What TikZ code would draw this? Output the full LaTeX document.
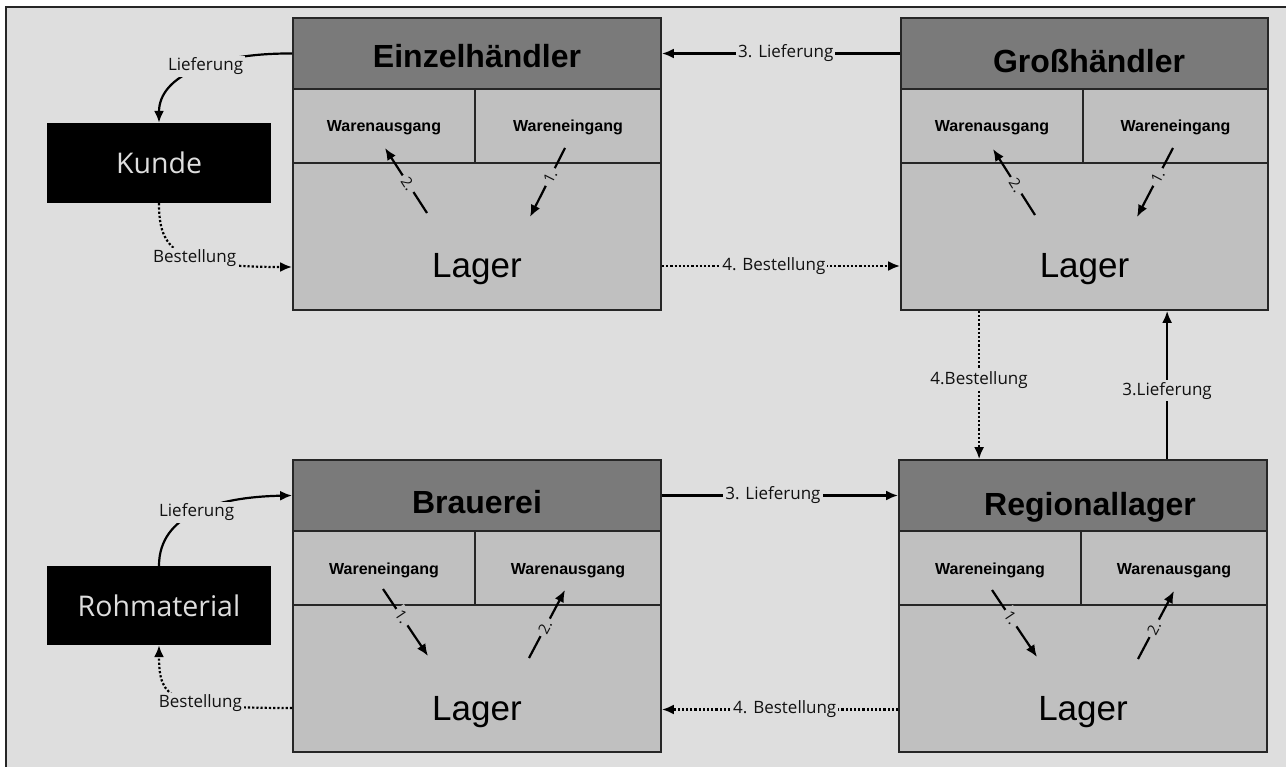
\documentclass[tikz,border=0pt]{standalone}
\usepackage{fontspec}
\setmainfont{Liberation Sans}
\newfontfamily\lblfont{Open Sans}
\usetikzlibrary{arrows.meta,calc}

\definecolor{bgc}{HTML}{DEDEDE}
\definecolor{hdc}{HTML}{7A7A7A}
\definecolor{cellc}{HTML}{C0C0C0}
\definecolor{edgec}{HTML}{262626}
\definecolor{txtc}{HTML}{111111}

\tikzset{
  hdbox/.style={draw=edgec, fill=hdc, line width=1.8pt, inner sep=0pt},
  cellbox/.style={draw=edgec, fill=cellc, line width=1.8pt, inner sep=0pt},
  darkbox/.style={fill=black, inner sep=0pt, text=bgc,
    font=\lblfont\fontsize{28.5}{30}\selectfont},
  titletxt/.style={anchor=base, inner sep=0pt, text=black,
    font=\bfseries\fontsize{32}{34}\selectfont},
  subtxt/.style={anchor=base, inner sep=0pt, text=black,
    font=\bfseries\fontsize{16}{18}\selectfont},
  lagertxt/.style={anchor=base, inner sep=0pt, text=black,
    font=\fontsize{35}{37}\selectfont},
  connlbl/.style={fill=bgc, inner sep=2pt, text=txtc,
    font=\lblfont\fontsize{17}{18}\selectfont},
  steplbl/.style={sloped, fill=cellc, inner sep=3.5pt, text=txtc,
    font=\lblfont\fontsize{15}{16}\selectfont},
  flow/.style={draw=black, line width=2.2pt, -{Latex[length=12pt,width=10pt]}},
  order/.style={flow, dotted},
}

% one stage of the chain: header, two goods cells and the store below
% #1 name, #2 left, #3 right, #4 divider, #5 top, #6 left cell, #7 right cell
\newcommand\stage[7]{%
  \node[hdbox, minimum width={(#3-#2)*1pt}, minimum height=71pt]
    (#1h) at ({(#2+#3)/2},{#5+35.5}) {};
  \node[cellbox, minimum width={(#4-#2)*1pt}, minimum height=74pt]
    (#1a) at ({(#2+#4)/2},{#5+108}) {};
  \node[cellbox, minimum width={(#3-#4)*1pt}, minimum height=74pt]
    (#1b) at ({(#4+#3)/2},{#5+108}) {};
  \node[cellbox, minimum width={(#3-#2)*1pt}, minimum height=147pt]
    (#1l) at ({(#2+#3)/2},{#5+218.5}) {};
  \node[subtxt] (#1at) at ({(#2+#4)/2},{#5+114}) {#6};
  \node[subtxt] (#1bt) at ({(#4+#3)/2},{#5+114}) {#7};
  \node[lagertxt] (#1lt) at ({(#2+#3)/2},{#5+260}) {Lager};
}

\begin{document}
\begin{tikzpicture}[x=1pt,y=-1pt]
  \useasboundingbox (0,0) rectangle (1286,767);
  \fill[white] (0,0) rectangle (1286,767);
  \fill[bgc] (6,7) rectangle (1286,767);
  \draw[edgec, line width=1.5pt] (6,767) -- (6,7) -- (1286,7);

  % the four stages
  \stage{E}{293}{661}{475}{18}{Warenausgang}{Wareneingang}
  \stage{G}{901}{1268}{1083}{18}{Warenausgang}{Wareneingang}
  \stage{B}{293}{661}{475}{460}{Wareneingang}{Warenausgang}
  \stage{R}{899}{1267}{1081}{460}{Wareneingang}{Warenausgang}

  \node[titletxt] (Etitle) at (477,68) {Einzelhändler};
  \node[titletxt] (Gtitle) at (1089,73) {Großhändler};
  \node[titletxt] (Btitle) at (477,513) {Brauerei};
  \node[titletxt] (Rtitle) at (1090,515) {Regionallager};

  % customer and raw material
  \node[darkbox, minimum width=224pt, minimum height=80pt] (kunde) at (159,163) {Kunde};
  \node[darkbox, minimum width=224pt, minimum height=79pt] (roh) at (159,605.5) {Rohmaterial};

  % moves inside each stage
  \coordinate (E2s) at (427,213); \coordinate (E2e) at (385,148);
  \coordinate (E1s) at (565,148); \coordinate (E1e) at (530,217);
  \draw[flow] (E2s) -- node[steplbl, pos=0.45] {2.} (E2e);
  \draw[flow] (E1s) -- node[steplbl, pos=0.42] {1.} (E1e);

  \coordinate (G2s) at (1035,215); \coordinate (G2e) at (993,149);
  \coordinate (G1s) at (1173,148); \coordinate (G1e) at (1137,217);
  \draw[flow] (G2s) -- node[steplbl, pos=0.45] {2.} (G2e);
  \draw[flow] (G1s) -- node[steplbl, pos=0.42] {1.} (G1e);

  \coordinate (B1s) at (383,589); \coordinate (B1e) at (428,656);
  \coordinate (B2s) at (529,658); \coordinate (B2e) at (565,590);
  \draw[flow] (B1s) -- node[steplbl, pos=0.42] {1.} (B1e);
  \draw[flow] (B2s) -- node[steplbl, pos=0.45] {2.} (B2e);

  \coordinate (R1s) at (992,590); \coordinate (R1e) at (1037,657);
  \coordinate (R2s) at (1138,659); \coordinate (R2e) at (1174,591);
  \draw[flow] (R1s) -- node[steplbl, pos=0.42] {1.} (R1e);
  \draw[flow] (R2s) -- node[steplbl, pos=0.45] {2.} (R2e);

  % deliveries and orders between the stages
  \draw[flow] (Gh.west) -- node[connlbl, pos=0.48] {3. Lieferung} (Eh.east);
  \draw[order] ([yshift=-29.5pt]El.east) -- node[connlbl, pos=0.47] {4. Bestellung} ([yshift=-29.5pt]Gl.west);
  \draw[order] ([xshift=79pt]Gl.south west) -- node[connlbl, pos=0.47] {4.Bestellung} ([xshift=81pt]Rh.north west);
  \draw[flow] ([xshift=269pt]Rh.north west) -- node[connlbl, pos=0.46] {3.Lieferung} ([xshift=267pt]Gl.south west);
  \draw[flow] (Bh.east) -- node[connlbl, pos=0.47] {3. Lieferung} (Rh.west);
  \draw[order] ([yshift=-31pt]Rl.west) -- node[connlbl, pos=0.48] {4. Bestellung} ([yshift=-31pt]Bl.east);

  % customer side
  \draw[flow] (Eh.west) .. controls (215,53) and (159,75) .. node[connlbl, pos=0.44] {Lieferung} (kunde.north);
  \draw[order] (kunde.south) .. controls (159,250) and (175,267) .. node[connlbl, pos=0.6] {Bestellung} ([yshift=-30.5pt]El.west);

  % raw material side
  \draw[flow] (roh.north) .. controls (159,515) and (215,497) .. node[connlbl, pos=0.5] {Lieferung} (Bh.west);
  \draw[order] ([yshift=-29.5pt]Bl.west) .. controls (170,708) and (159,700) .. node[connlbl, pos=0.35] {Bestellung} (roh.south);
\end{tikzpicture}
\end{document}
